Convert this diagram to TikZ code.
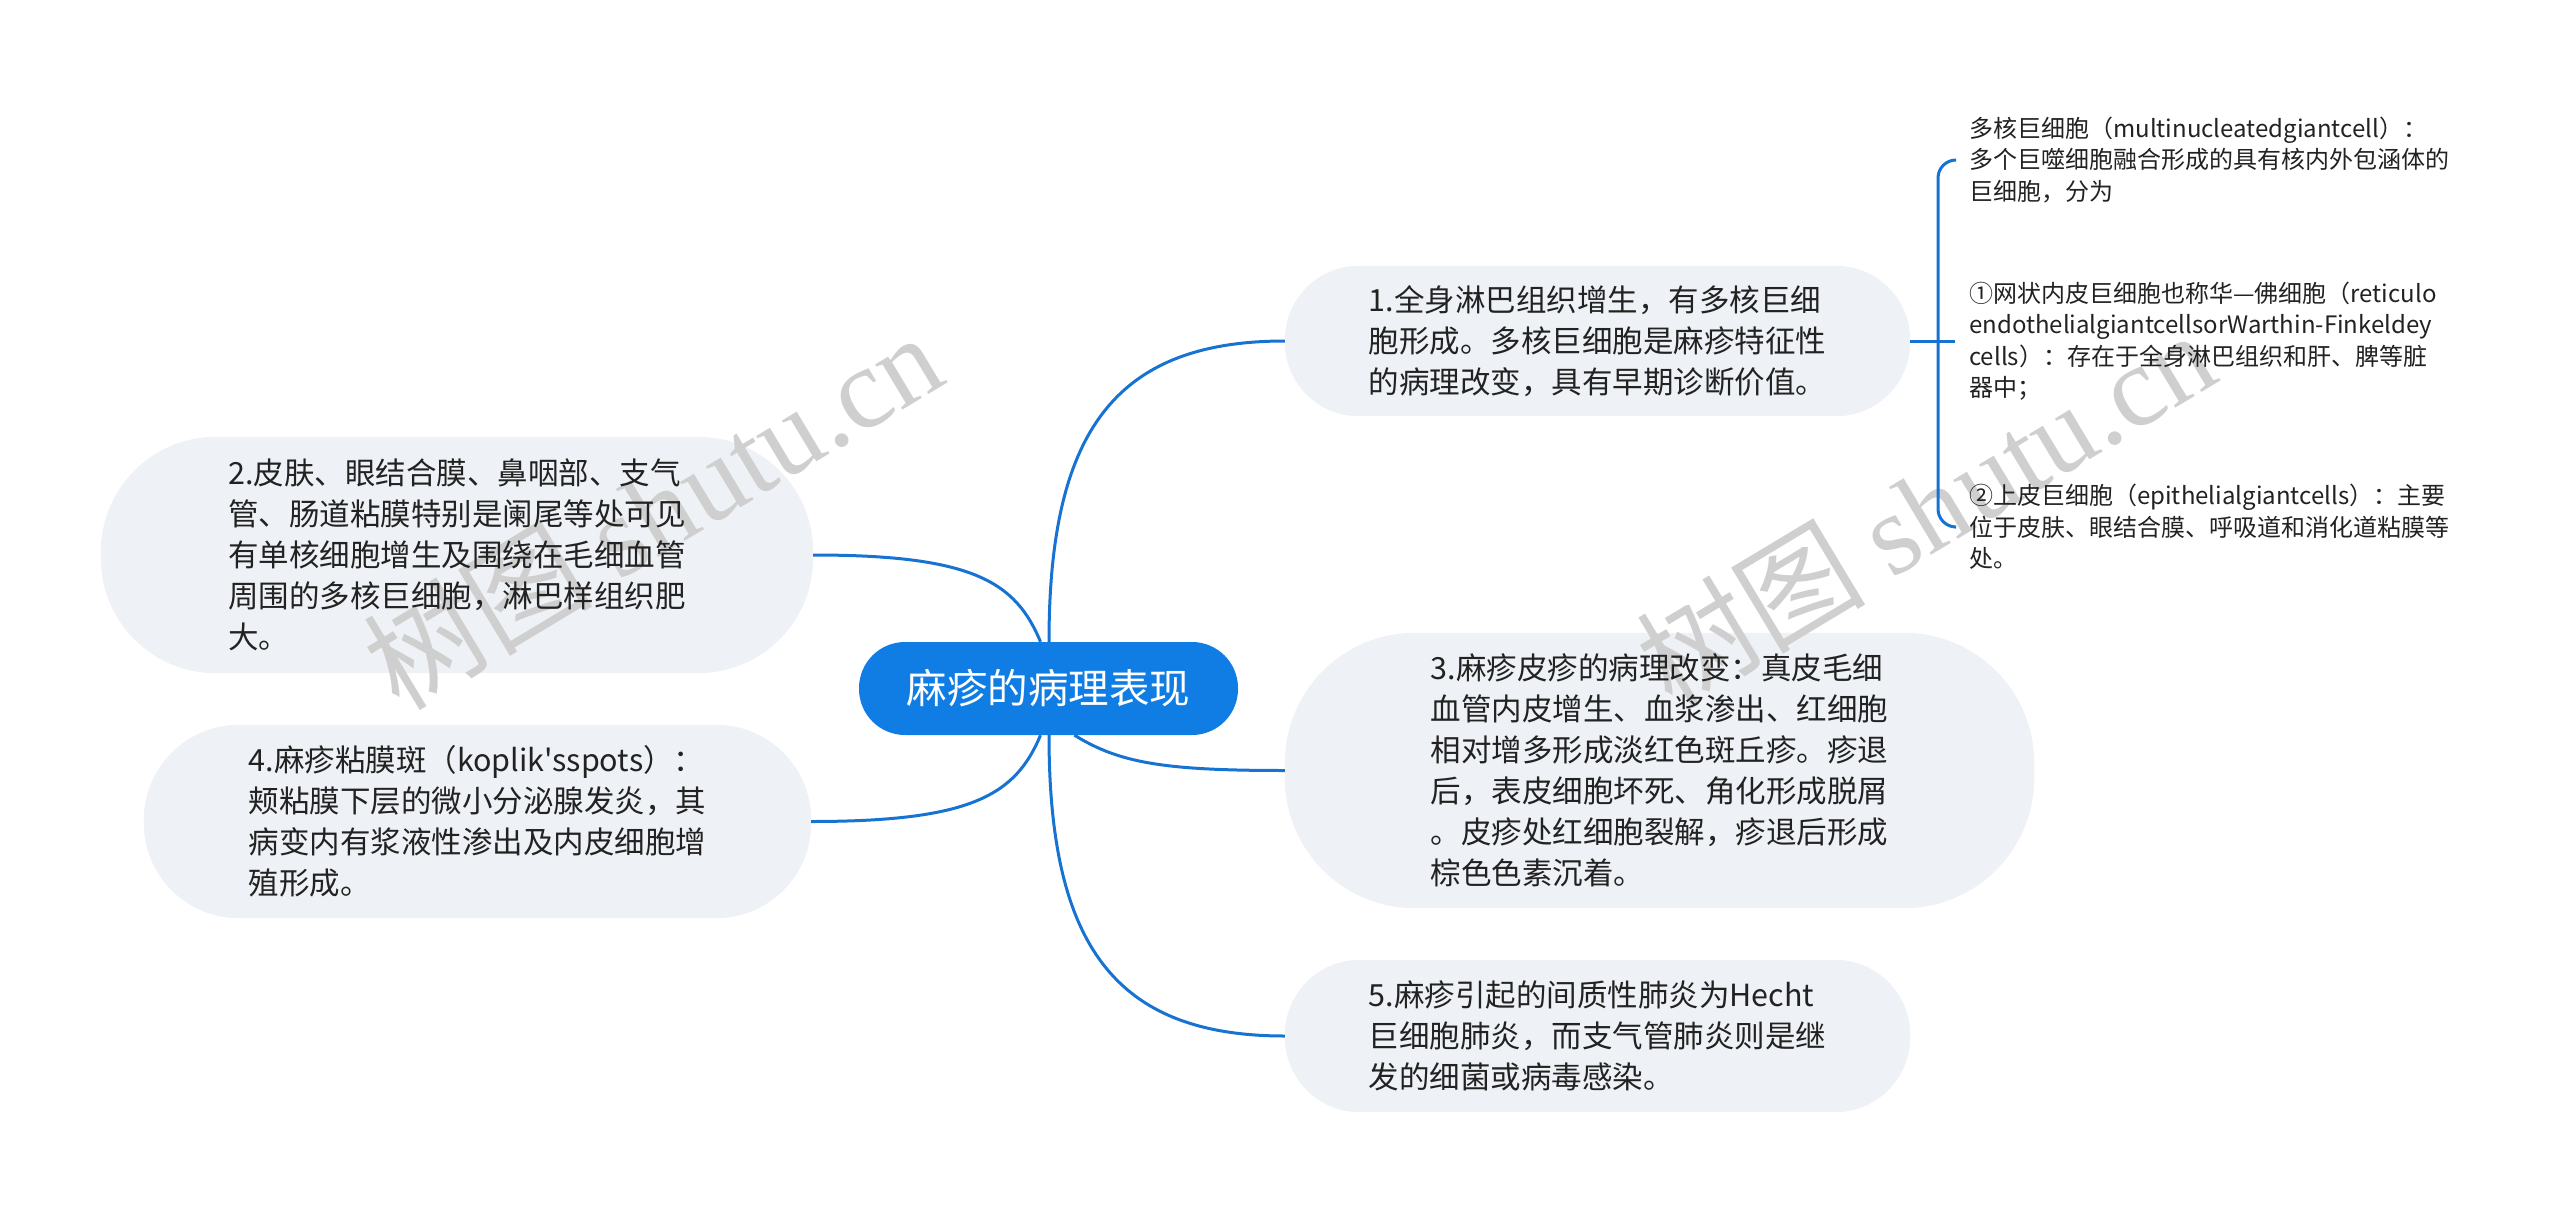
\documentclass[tikz,border=0pt]{standalone}
\usepackage{fontspec}
\setmainfont{Noto Sans CJK SC}[Ligatures=TeXOff]
\newfontfamily\wmserif{Liberation Serif}
\usetikzlibrary{calc}
\pgfdeclarelayer{boxlayer}
\pgfdeclarelayer{marklayer}
\pgfsetlayers{boxlayer,marklayer,main}
\definecolor{rootblue}{RGB}{16,125,228}
\definecolor{linkblue}{RGB}{22,115,210}
\definecolor{boxgray}{RGB}{238,241,245}
\definecolor{txtdark}{RGB}{34,34,34}
\begin{document}
\begin{tikzpicture}[x=1pt,y=-1pt,
  topic/.style={text=txtdark, align=left, inner sep=0pt,
    font=\fontsize{30.5}{41}\selectfont},
  leaf/.style={anchor=west, text=txtdark, align=left, inner xsep=14pt, inner ysep=0pt,
    font=\fontsize{24}{31.5}\selectfont},
  conn/.style={draw=linkblue, line width=3pt},
  wm/.style={text=black!19, rotate=31, inner sep=0pt, font=\fontsize{115}{115}\selectfont}]
\useasboundingbox (0,0) rectangle (2560,1215);

% root
\node[fill=rootblue, text=white, inner sep=0pt, minimum width=379pt, minimum height=93pt,
  rounded corners=46pt, font=\fontsize{40.5}{48}\selectfont] (root) at (1048.5,688.5) {麻疹的病理表现};

% topics
\node[topic, minimum width=625pt, minimum height=150pt] (n1) at (1597.5,341)
 {1.全身淋巴组织增生，有多核巨细\\胞形成。多核巨细胞是麻疹特征性\\的病理改变，具有早期诊断价值。};
\node[topic, minimum width=712pt, minimum height=236pt] (n2) at (457,555)
 {2.皮肤、眼结合膜、鼻咽部、支气\\管、肠道粘膜特别是阑尾等处可见\\有单核细胞增生及围绕在毛细血管\\周围的多核巨细胞，淋巴样组织肥\\大。};
\node[topic, minimum width=749pt, minimum height=275pt] (n3) at (1659.5,770.5)
 {3.麻疹皮疹的病理改变：真皮毛细\\血管内皮增生、血浆渗出、红细胞\\相对增多形成淡红色斑丘疹。疹退\\后，表皮细胞坏死、角化形成脱屑\\。皮疹处红细胞裂解，疹退后形成\\棕色色素沉着。};
\node[topic, minimum width=667pt, minimum height=193pt] (n4) at (477.5,821.5)
 {4.麻疹粘膜斑（koplik's{}spots）：\\颊粘膜下层的微小分泌腺发炎，其\\病变内有浆液性渗出及内皮细胞增\\殖形成。};
\node[topic, minimum width=625pt, minimum height=152pt] (n5) at (1597.5,1036)
 {5.麻疹引起的间质性肺炎为Hecht\\巨细胞肺炎，而支气管肺炎则是继\\发的细菌或病毒感染。};

% box fills under the watermark and text
\begin{pgfonlayer}{boxlayer}
\fill[boxgray, rounded corners=74pt] (n1.north west) rectangle (n1.south east);
\fill[boxgray, rounded corners=115pt] (n2.north west) rectangle (n2.south east);
\fill[boxgray, rounded corners=130pt] (n3.north west) rectangle (n3.south east);
\fill[boxgray, rounded corners=95pt] (n4.north west) rectangle (n4.south east);
\fill[boxgray, rounded corners=75pt] (n5.north west) rectangle (n5.south east);
\end{pgfonlayer}

% leaves
\node[leaf] (la) at (1955,160)
 {多核巨细胞（multinucleatedgiantcell）：\\多个巨噬细胞融合形成的具有核内外包涵体的\\巨细胞，分为};
\node[leaf] (lb) at (1955,341)
 {①网状内皮巨细胞也称华—佛细胞（reticulo\\endothelialgiantcellsorWarthin-Finkeldey\\cells）：存在于全身淋巴组织和肝、脾等脏\\器中；};
\node[leaf] (lc) at (1955,527)
 {②上皮巨细胞（epithelialgiantcells）：主要\\位于皮肤、眼结合膜、呼吸道和消化道粘膜等\\处。};

% connectors from root
\draw[conn] ($(root.north)+(0.5,0)$) .. controls +(0,-210) and +(-170,0) .. (n1.west);
\draw[conn] ($(root.north)+(-8,0)$) .. controls +(-25,-60) and +(160,0) .. (n2.east);
\draw[conn] ($(root.south)+(26,0)$) .. controls +(45,28) and +(-120,0) .. (n3.west);
\draw[conn] ($(root.south)+(-8,0)$) .. controls +(-25,60) and +(160,0) .. (n4.east);
\draw[conn] ($(root.south)+(0.5,0)$) .. controls +(0,210) and +(-170,0) .. (n5.west);

% bracket to leaves
\coordinate (bj) at (1938,341);
\draw[conn] (n1.east) -- (lb.west);
\draw[conn, rounded corners=18pt] (bj) |- (la.west);
\draw[conn, rounded corners=18pt] (bj) |- (lc.west);

% watermarks (under the texts)
\begin{pgfonlayer}{marklayer}
\node[wm] (wm1) at (652,510) {树图 {\wmserif shutu.cn}};
\node[wm] (wm2) at (1925,508) {树图 {\wmserif shutu.cn}};
\end{pgfonlayer}
\end{tikzpicture}
\end{document}
